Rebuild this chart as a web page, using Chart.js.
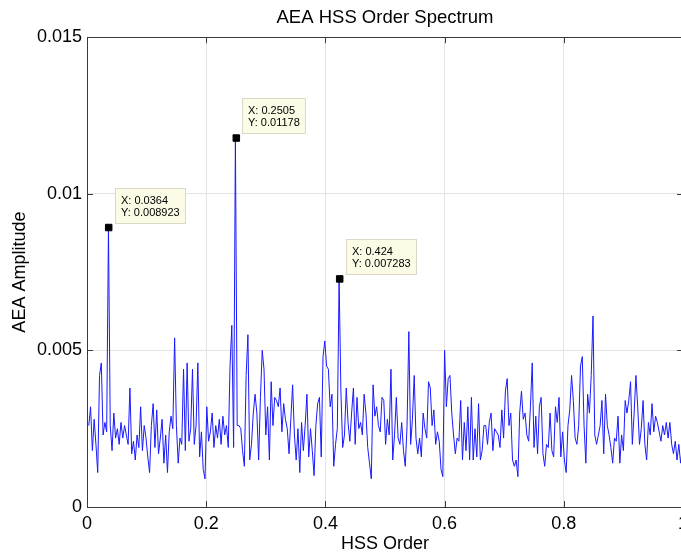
<!DOCTYPE html>
<html>
<head>
<meta charset="utf-8">
<title>AEA HSS Order Spectrum</title>
<script src="https://cdn.jsdelivr.net/npm/chart.js@4"></script>
<style>
  html, body { margin: 0; padding: 0; background: #fff; overflow: hidden; }
  #spectrumChart { display: block; }
</style>
</head>
<body>
<canvas id="spectrumChart" width="700" height="558"></canvas>
<script>
// Rejilla de órdenes: el espectro empieza en 0.003 y avanza de 0.003 en 0.003
const orderStart = 0.003;
const orderStep = 0.003;

// Amplitud AEA, en milésimas (x 1e-3)
const amplitudeMilli = [
  2.6, 3.2, 1.8, 2.8, 2.0, 1.1, 4.2, 4.6, 2.3, 2.7,
  2.4, 8.923, 2.6, 1.8, 3.0, 2.2, 2.5, 2.0, 2.7, 2.2,
  2.6, 2.3, 2.0, 3.8, 1.7, 2.1, 1.5, 2.3, 1.9, 3.2,
  1.8, 2.6, 2.2, 1.6, 1.1, 2.6, 3.3, 1.9, 3.1, 1.7,
  2.2, 2.8, 1.4, 2.3, 1.1, 2.4, 2.9, 2.5, 5.4, 2.6,
  1.4, 2.2, 2.0, 4.4, 1.8, 4.6, 2.1, 2.5, 4.4, 2.0,
  2.6, 4.6, 1.6, 2.4, 1.2, 0.9, 3.2, 2.1, 2.4, 3.0,
  1.9, 2.6, 2.2, 2.8, 2.0, 2.9, 2.3, 2.6, 1.9, 4.5,
  5.8, 1.9, 11.78, 2.6, 2.6, 2.5, 1.8, 1.3, 4.2, 5.5,
  1.5, 2.0, 3.0, 3.6, 3.0, 1.5, 3.5, 5.0, 4.4, 2.3,
  3.2, 1.5, 4.0, 2.6, 3.5, 3.4, 3.2, 3.8, 2.4, 3.3,
  2.8, 2.5, 1.7, 2.8, 3.9, 2.3, 1.5, 2.5, 1.1, 2.7,
  1.8, 2.6, 3.6, 1.6, 2.5, 1.8, 1.0, 2.6, 3.3, 3.5,
  1.6, 4.8, 5.3, 4.5, 4.4, 3.2, 3.6, 1.3, 2.0, 2.5,
  7.283, 3.7, 1.9, 2.3, 3.8, 2.7, 2.1, 3.0, 3.8, 2.0,
  3.5, 2.5, 2.7, 2.3, 3.6, 3.0, 1.9, 1.4, 0.9, 3.9,
  2.9, 3.2, 2.6, 2.4, 3.5, 3.4, 2.0, 2.8, 2.3, 4.4,
  1.5, 2.3, 3.5, 2.2, 2.0, 2.7, 1.8, 1.3, 2.6, 5.6,
  2.0, 2.8, 4.2, 2.2, 1.7, 2.2, 1.6, 3.0, 2.5, 2.2,
  4.0, 3.8, 2.6, 3.1, 2.0, 2.4, 2.1, 1.2, 0.97, 5.0,
  3.2, 4.1, 4.2, 3.0, 2.3, 1.7, 2.2, 2.1, 3.4, 1.5,
  2.7, 1.8, 3.2, 1.5, 3.5, 1.5, 2.5, 1.6, 3.3, 1.5,
  1.8, 2.6, 2.6, 2.0, 2.7, 3.0, 1.8, 2.5, 2.4, 2.3,
  1.9, 3.1, 2.2, 3.7, 4.1, 2.6, 3.0, 1.5, 1.3, 1.5,
  0.97, 3.0, 3.7, 2.8, 3.0, 2.3, 2.1, 3.2, 4.6, 1.9,
  2.9, 1.7, 3.2, 3.5, 1.7, 1.3, 2.0, 1.9, 3.0, 1.8,
  1.6, 3.2, 2.7, 3.5, 1.6, 2.4, 1.5, 1.1, 2.6, 3.1,
  4.2, 3.4, 2.2, 2.0, 2.6, 4.5, 4.8, 2.6, 1.4, 3.6,
  3.0, 4.2, 6.1, 2.3, 2.0, 2.3, 2.6, 3.4, 1.7, 3.6,
  2.6, 2.3, 1.9, 1.4, 2.2, 2.1, 2.9, 1.4, 2.3, 1.8,
  3.4, 3.0, 3.4, 4.0, 2.0, 3.0, 4.2, 3.2, 2.0, 2.5,
  3.4, 2.0, 1.5, 2.7, 2.3, 3.3, 2.4, 2.9, 2.7, 2.4,
  2.1, 2.6, 2.3, 2.7, 2.2, 2.7, 2.0, 1.7, 2.1, 1.5,
  2.0, 1.4, 1.9
];

// Data tips marcados en la figura
const tipOrders = [0.0364, 0.2505, 0.424];
const tipAmplitudes = [0.008923, 0.01178, 0.007283];

// Ejes
const xTicks = [0, 0.2, 0.4, 0.6, 0.8, 1];
const yTicks = [0, 0.005, 0.01, 0.015];

const fontFamily = '"Liberation Sans", Arial, Helvetica, sans-serif';
Chart.defaults.color = '#000';
Chart.defaults.font.family = fontFamily;

const spectrumPoints = amplitudeMilli.map((v, i) => ({
  x: Number((orderStart + i * orderStep).toFixed(4)),
  y: v / 1000
}));
const tipPoints = tipOrders.map((x, k) => ({ x: x, y: tipAmplitudes[k] }));

function formatTick(v) {
  return parseFloat(Number(v).toFixed(4)).toString();
}

// Caja y marcas hacia dentro, estilo MATLAB
const axesBoxPlugin = {
  id: 'axesBox',
  afterDraw(chart) {
    const { ctx, chartArea: a, scales } = chart;
    ctx.save();
    ctx.strokeStyle = '#3a3a3a';
    ctx.lineWidth = 1;
    ctx.beginPath();
    xTicks.forEach(v => {
      const px = Math.round(scales.x.getPixelForValue(v)) + 0.5;
      ctx.moveTo(px, a.bottom); ctx.lineTo(px, a.bottom - 6);
      ctx.moveTo(px, a.top); ctx.lineTo(px, a.top + 6);
    });
    yTicks.forEach(v => {
      const py = Math.round(scales.y.getPixelForValue(v)) + 0.5;
      ctx.moveTo(a.left, py); ctx.lineTo(a.left + 6, py);
      ctx.moveTo(a.right, py); ctx.lineTo(a.right - 6, py);
    });
    ctx.stroke();
    ctx.strokeRect(Math.round(a.left) + 0.5, Math.round(a.top) + 0.5,
      Math.round(a.right - a.left), Math.round(a.bottom - a.top));
    ctx.restore();
  }
};

// Cuadros amarillos de los data tips
const dataTipPlugin = {
  id: 'dataTips',
  afterDatasetsDraw(chart) {
    const { ctx, scales } = chart;
    ctx.save();
    ctx.font = '11px ' + fontFamily;
    ctx.textBaseline = 'middle';
    tipOrders.forEach((order, k) => {
      const px = scales.x.getPixelForValue(order);
      const py = scales.y.getPixelForValue(tipAmplitudes[k]);
      const lines = ['X: ' + order, 'Y: ' + tipAmplitudes[k]];
      const w = Math.round(Math.max(...lines.map(s => ctx.measureText(s).width)) + 11);
      const h = 35;
      const left = Math.round(px + 6) + 0.5;
      const top = Math.round(py - 5 - h) + 0.5;
      ctx.fillStyle = '#fbfbe6';
      ctx.fillRect(left, top, w, h);
      ctx.strokeStyle = '#d9d9c6';
      ctx.strokeRect(left, top, w, h);
      ctx.fillStyle = '#000';
      ctx.fillText(lines[0], left + 5.5, top + 12);
      ctx.fillText(lines[1], left + 5.5, top + 24);
    });
    ctx.restore();
  }
};

const ctx = document.getElementById('spectrumChart').getContext('2d');
new Chart(ctx, {
  type: 'scatter',
  data: {
    datasets: [{
      label: 'AEA Amplitude',
      data: spectrumPoints,
      showLine: true,
      borderColor: '#1a1aff',
      borderWidth: 1,
      pointRadius: 0,
      tension: 0,
      order: 1
    }, {
      label: 'Data tips',
      data: tipPoints,
      pointStyle: 'rect',
      pointRadius: 4.6,
      backgroundColor: '#000',
      borderColor: '#000',
      borderWidth: 1,
      order: 0
    }]
  },
  options: {
    responsive: false,
    animation: false,
    events: [],
    layout: { padding: { left: 0, right: 17, top: 0, bottom: 0 } },
    plugins: {
      legend: { display: false },
      tooltip: { enabled: false },
      title: {
        display: true,
        text: 'AEA HSS Order Spectrum',
        fullSize: false,
        color: '#000',
        font: { size: 18.5, weight: 'normal' },
        padding: { top: 7, bottom: 8 }
      }
    },
    scales: {
      x: {
        type: 'linear',
        min: 0,
        max: 1,
        afterFit: scale => { scale.height = 51; },
        ticks: {
          stepSize: 0.2,
          autoSkip: false,
          maxRotation: 0,
          padding: 6,
          font: { size: 18 },
          callback: formatTick
        },
        grid: { color: '#e3e3e3', drawTicks: false },
        border: { display: false },
        title: {
          display: true,
          text: 'HSS Order',
          font: { size: 18 },
          padding: { top: 0, bottom: 3 }
        }
      },
      y: {
        min: 0,
        max: 0.015,
        afterFit: scale => { scale.width = 87; },
        ticks: {
          stepSize: 0.005,
          padding: 5,
          font: { size: 18 },
          callback: formatTick
        },
        grid: { color: '#e3e3e3', drawTicks: false },
        border: { display: false },
        title: {
          display: true,
          text: 'AEA Amplitude',
          font: { size: 18 },
          padding: { top: 9, bottom: 0 }
        }
      }
    }
  },
  plugins: [axesBoxPlugin, dataTipPlugin]
});
</script>
</body>
</html>
